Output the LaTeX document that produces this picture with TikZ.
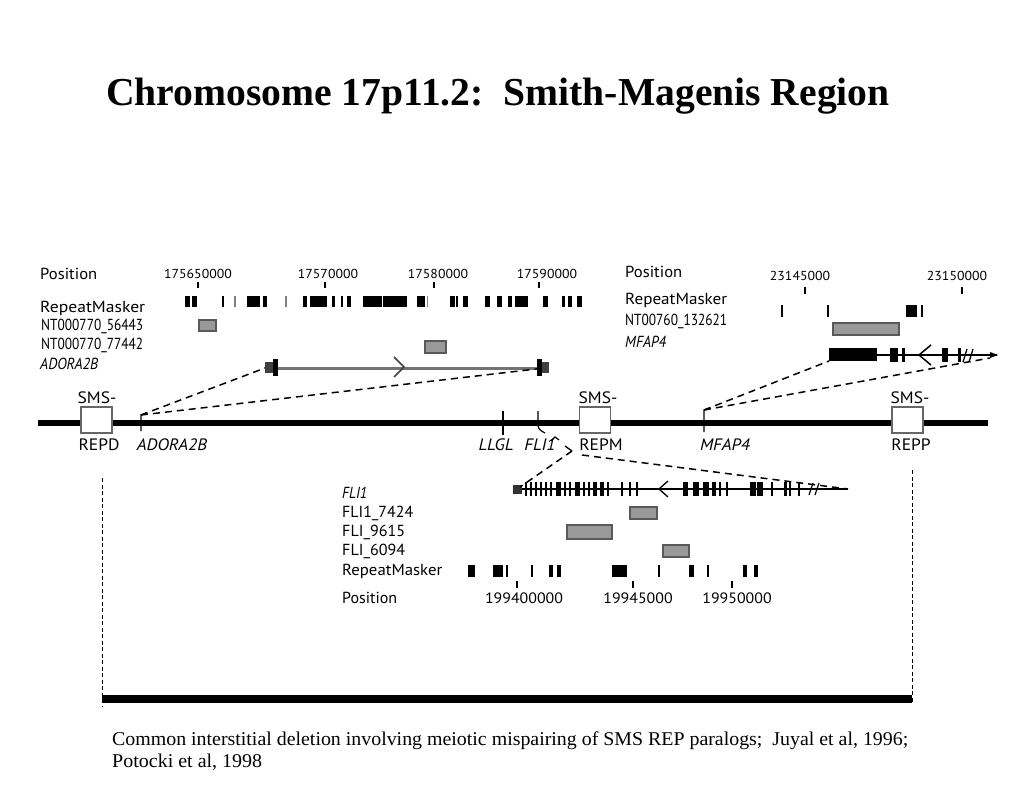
\documentclass[tikz,border=0pt]{standalone}
\usepackage{fontspec}
\usepackage{graphicx}
\setmainfont{Liberation Serif}
\newfontfamily\lab[FakeStretch=1.06]{PT Sans}
\newcommand\fw[2]{\resizebox{#1pt}{\height}{#2}}
\begin{document}
\begin{tikzpicture}[x=1pt,y=-1pt,
  lab/.style={font=\lab\fontsize{16}{19}\selectfont, anchor=west, inner sep=0pt},
  ilab/.style={font=\lab\itshape\fontsize{16}{19}\selectfont, anchor=west, inner sep=0pt},
  num/.style={font=\lab\fontsize{13}{15}\selectfont, inner sep=0pt},
  bnum/.style={font=\lab\fontsize{15}{17}\selectfont, inner sep=0pt},
  cl/.style={font=\lab\fontsize{16.5}{19}\selectfont, inner sep=0pt},
  icl/.style={font=\lab\itshape\fontsize{16.5}{19}\selectfont, inner sep=0pt},
  captxt/.style={anchor=base west, inner sep=0pt, font=\fontsize{19.5}{23}\selectfont},
  hit/.style={draw=black!65, fill=black!40, line width=1.2pt},
  sms/.style={draw=black!60, fill=white, line width=1.6pt, minimum width=31pt, minimum height=26pt, inner sep=0pt},
  map/.style={line width=1.5pt, dash pattern=on 7pt off 5pt},
  tick/.style={line width=1.2pt},
  vdash/.style={line width=0.7pt, dash pattern=on 4pt off 2.5pt}]
\useasboundingbox[fill=white] (0,0) rectangle (1024,810);

% title
\node[font=\bfseries\fontsize{39.6}{44}\selectfont] (title) at (498,96) {Chromosome 17p11.2:\ \ Smith-Magenis Region};

% ---------- top-left panel (ADORA2B) ----------
\node[lab] (posA) at (40,274) {\fw{57}{Position}};
\node[lab] (rmA) at (40,308) {\fw{105}{RepeatMasker}};
\node[lab] (ntA1) at (41,326) {\fw{102}{NT000770\_56443}};
\node[lab] (ntA2) at (41,345) {\fw{102}{NT000770\_77442}};
\node[ilab] (adA) at (40,364) {\fw{58}{ADORA2B}};
\foreach \x/\t/\c in {198/175650000/198, 325/17570000/328, 434/17580000/438, 539/17590000/547}{
  \node[num] at (\c,274) {\t};
  \draw[tick] (\x,282) -- (\x,288);
}
\foreach \a/\b in {185/190,192/197,222/224,247/260,263/267,303/307,310/327,332/335,341/343,347/351,363/382,383/407,417/425,450/455,456/458,463/468,485/490,497/502,508/512,515/528,543/548,562/565,568/572,577/582}
  \fill (\a,296) rectangle (\b,307);
\foreach \a/\b in {234/236,285/287,427/428}
  \fill[black!50] (\a,296) rectangle (\b,307);
\draw[hit] (199,320) rectangle (216,331);
\draw[hit] (425,341) rectangle (446,353);
% ADORA2B gene
\coordinate (adL) at (265,368);
\coordinate (adR) at (545,368);
\draw[line width=3pt, black!55] (adL) -- (adR);
\fill[black!75] (265,362) rectangle (273,373);
\fill (273,359) rectangle (278,376);
\fill (537,359) rectangle (542,376);
\fill[black!75] (542,362) rectangle (549,373);
\draw[line width=1.5pt, black!75] (394,357) -- (404,367) -- (394,377);

% ---------- top-right panel (MFAP4) ----------
\node[lab] (posB) at (625,272) {\fw{57}{Position}};
\node[lab] (rmB) at (625,300) {\fw{102}{RepeatMasker}};
\node[lab] (ntB) at (625,321) {\fw{102}{NT00760\_132621}};
\node[ilab] (mfB) at (625,342) {\fw{41}{MFAP4}};
\foreach \x/\t/\c in {805/23145000/800, 962/23150000/957}{
  \node[num] at (\c,276) {\t};
  \draw[tick] (\x,287) -- (\x,294);
}
\foreach \a/\b in {781/783,827/829,906/917,921/923}
  \fill (\a,305) rectangle (\b,317);
\draw[hit] (833,323) rectangle (899,335);
\coordinate (mfL) at (829,355);
\coordinate (mfR) at (997,355);
\draw[line width=1.5pt] (mfL) -- (mfR);
\fill (829,348) rectangle (877,361);
\foreach \a/\b in {890/898,902/905,942/948,958/961}
  \fill (\a,348) rectangle (\b,362);
\draw[line width=1.5pt] (931,345) -- (919,355) -- (931,365);
\draw[line width=1.3pt] (963,362) -- (967,349);
\draw[line width=1.3pt] (969,362) -- (973,349);
\fill (990,352) -- (998,355) -- (990,358) -- cycle;

% ---------- chromosome ----------
\draw[line width=6pt] (38,423) -- (988,423);
\node[sms] (repd) at (96.5,420) {};
\node[sms] (repm) at (595,420) {};
\node[sms] (repp) at (907.5,420) {};
\node[cl] (smsD) at (97,398) {SMS-};
\node[cl] (smsM) at (598,398) {SMS-};
\node[cl] (smsP) at (910,398) {SMS-};
\node[cl] (repdL) at (99,445) {REPD};
\node[cl] (repmL) at (601,445) {REPM};
\node[cl] (reppL) at (911,445) {REPP};
\node[icl] (adoL) at (172,445) {ADORA2B};
\node[icl] (llglL) at (496,445) {LLGL};
\node[icl] (fliL) at (540,445) {FLI1};
\node[icl] (mfapL) at (725,445) {MFAP4};
% ticks
\coordinate (adTick) at (141,415);
\draw[tick] (141,431) -- (adTick) -- (146,413);
\draw[tick] (503,411) -- (503,435);
\draw[tick] (538,411) -- (538,425) .. controls (538,429) and (541,431) .. (545,433);
\draw[tick] (551,441) -- (555,437) -- (559,440);
\coordinate (mfTick) at (704,410);
\draw[tick] (704,432) -- (mfTick) -- (710,408);
% mapping lines
\draw[map] (adTick) -- (adL);
\draw[map] (adTick) -- (adR);
\draw[map] (mfTick) -- (829,361);
\draw[map] (mfTick) -- (990,358);

% ---------- bottom panel (FLI1) ----------
\node[ilab] (fliB) at (342,493) {\fw{25}{FLI1}};
\node[lab] (f7424) at (342,513) {\fw{71}{FLI1\_7424}};
\node[lab] (f9615) at (342,532) {\fw{63}{FLI\_9615}};
\node[lab] (f6094) at (342,551) {\fw{63}{FLI\_6094}};
\node[lab] (rmC) at (342,571) {\fw{100}{RepeatMasker}};
\node[lab] (posC) at (342,598) {\fw{55}{Position}};
\coordinate (fliGL) at (520,487);
\coordinate (fliGR) at (848,489);
\draw[line width=1.2pt] (513,489) -- (fliGR);
\fill[black!80] (513,485) rectangle (522,494);
\foreach \a/\b in {525/527,530/532,535/537,540/542,545/547,550/552,556/561,564/566,569/571,575/580,583/585,588/590,593/597,600/604,607/609,621/623,629/631,636/638,683/688,693/699,703/709,712/716,719/721,726/728,750/756,757/763,771/773,784/787,789/791,798/800}
  \fill (\a,482) rectangle (\b,496);
\draw[line width=1.3pt] (668,481) -- (659,489) -- (668,497);
\draw[line width=1.2pt] (809,495) -- (813,483);
\draw[line width=1.2pt] (815,495) -- (819,483);
\coordinate (fliApex) at (572,451);
\coordinate (fliApex2) at (582,455);
\draw[line width=1.3pt] (565,446) -- (fliApex);
\draw[map] (fliApex) -- (fliGL);
\draw[map] (fliApex2) -- (fliGR);
\draw[hit] (630,507) rectangle (657,519);
\draw[hit] (567,525) rectangle (612,539);
\draw[hit] (663,545) rectangle (689,557);
\foreach \a/\b in {468/475,493/503,506/508,531/533,549/553,557/561,612/627,658/660,689/694,707/709,743/747,754/758}
  \fill (\a,565) rectangle (\b,577);
\foreach \x/\t/\c in {517/199400000/524, 633/19945000/638, 732/19950000/737}{
  \node[bnum] at (\c,598) {\t};
  \draw[tick] (\x,581) -- (\x,588);
}

% ---------- deletion ----------
\coordinate (delL) at (102,699);
\coordinate (delR) at (912,699);
\draw[vdash] (102,478) -- (102,707);
\draw[vdash] (912,470) -- (912,702);
\draw[line width=8pt] (delL) -- (delR);

\node[captxt] (cap1) at (112,745) {\fw{796}{Common interstitial deletion involving meiotic mispairing of SMS REP paralogs;\ \ Juyal et al, 1996;}};
\node[captxt] (cap2) at (112,767) {\fw{150}{Potocki et al, 1998}};
\end{tikzpicture}
\end{document}
